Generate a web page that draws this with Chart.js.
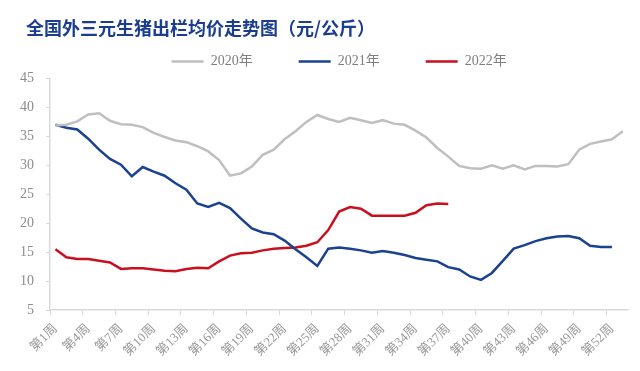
<!DOCTYPE html>
<html>
<head>
<meta charset="utf-8">
<script src="https://cdn.jsdelivr.net/npm/chart.js@4.4.0/dist/chart.umd.min.js"></script>
<style>
  body { margin: 0; background: #fff; }
  #wrap { width: 640px; height: 371px; position: relative; }
  #title {
    position: absolute; left: 26px; top: 17px; margin: 0;
    font-family: 'Noto Sans CJK SC', sans-serif; font-size: 18px; line-height: 20px;
    font-weight: bold; color: #1b3d8f; white-space: nowrap;
  }
</style>
</head>
<body>
<div id="wrap">
  <h1 id="title">全国外三元生猪出栏均价走势图（元/公斤）</h1>
  <canvas id="priceChart"></canvas>
</div>
<script>
// weekly average price, yuan/kg
var weeks = [];
for (var i = 1; i <= 53; i++) weeks.push('第' + i + '周');

var price2020 = [36.9, 37.0, 37.6, 38.8, 39.0, 37.7, 37.1, 37.0, 36.6, 35.6,
                 34.9, 34.3, 34.0, 33.3, 32.4, 30.9, 28.2, 28.6, 29.8, 31.8,
                 32.7, 34.5, 35.9, 37.5, 38.7, 38.0, 37.5, 38.2, 37.8, 37.3,
                 37.8, 37.2, 37.0, 36.0, 34.8, 33.0, 31.5, 29.9, 29.5, 29.4,
                 30.0, 29.4, 30.0, 29.3, 29.9, 29.9, 29.8, 30.2, 32.7, 33.7,
                 34.1, 34.5, 35.9];
var price2021 = [37.0, 36.5, 36.2, 34.6, 32.7, 31.1, 30.1, 28.1, 29.7, 28.9,
                 28.2, 26.9, 25.8, 23.4, 22.8, 23.5, 22.6, 20.8, 19.1, 18.4,
                 18.1, 17.0, 15.5, 14.1, 12.6, 15.6, 15.8, 15.6, 15.3, 14.9,
                 15.2, 14.9, 14.5, 14.0, 13.7, 13.4, 12.4, 12.0, 10.8, 10.2,
                 11.4, 13.5, 15.6, 16.2, 16.9, 17.4, 17.7, 17.8, 17.4, 16.1,
                 15.9, 15.9];
var price2022 = [15.5, 14.1, 13.8, 13.8, 13.5, 13.2, 12.1, 12.2, 12.2, 12.0,
                 11.8, 11.7, 12.1, 12.3, 12.2, 13.4, 14.4, 14.8, 14.9, 15.3,
                 15.6, 15.7, 15.8, 16.1, 16.7, 18.8, 22.0, 22.8, 22.5, 21.3,
                 21.3, 21.3, 21.3, 21.8, 23.1, 23.4, 23.3];

var serif = "'Liberation Serif', 'Noto Sans CJK SC', serif";
var axisGrey = '#d9d9d9';

var ctx = document.getElementById('priceChart').getContext('2d');
var myChart = new Chart(ctx, {
    type: 'line',
    data: {
        labels: weeks,
        datasets: [{
            label: '2020年',
            data: price2020,
            borderColor: '#bfbfbf',
            backgroundColor: '#bfbfbf',
            borderWidth: 2.5
        }, {
            label: '2021年',
            data: price2021,
            borderColor: '#1a428e',
            backgroundColor: '#1a428e',
            borderWidth: 2.5
        }, {
            label: '2022年',
            data: price2022,
            borderColor: '#c8101e',
            backgroundColor: '#c8101e',
            borderWidth: 2.5
        }]
    },
    options: {
        responsive: true,
        maintainAspectRatio: false,
        animation: false,
        elements: {
            point: { radius: 0 },
            line: { tension: 0 }
        },
        layout: {
            padding: { left: 0, right: 5, top: 8.5, bottom: 0 }
        },
        plugins: {
            legend: {
                position: 'top',
                fullSize: false,
                labels: {
                    boxWidth: 32,
                    boxHeight: 0,
                    padding: 46,
                    color: '#7f7f7f',
                    font: { family: serif, size: 14 }
                }
            },
            tooltip: { enabled: false }
        },
        scales: {
            x: {
                offset: true,
                afterFit: function (scale) { scale.height = 61; },
                grid: {
                    offset: true,
                    drawOnChartArea: false,
                    tickLength: 5,
                    color: function (c) { return c.index % 3 === 0 ? axisGrey : 'rgba(0,0,0,0)'; }
                },
                border: { color: axisGrey, width: 1.5 },
                ticks: {
                    autoSkip: false,
                    maxRotation: 45,
                    minRotation: 45,
                    padding: 6,
                    color: '#999999',
                    font: { family: serif, size: 13 },
                    callback: function (val, index) {
                        return index % 3 === 0 ? weeks[index] : '';
                    }
                }
            },
            y: {
                min: 5,
                max: 45,
                afterFit: function (scale) { scale.width = 50; },
                grid: {
                    drawOnChartArea: false,
                    tickLength: 4,
                    color: axisGrey
                },
                border: { color: axisGrey, width: 1.5 },
                ticks: {
                    stepSize: 5,
                    padding: 12,
                    color: '#8c8c8c',
                    font: { family: serif, size: 14 }
                }
            }
        }
    }
});
</script>
</body>
</html>
